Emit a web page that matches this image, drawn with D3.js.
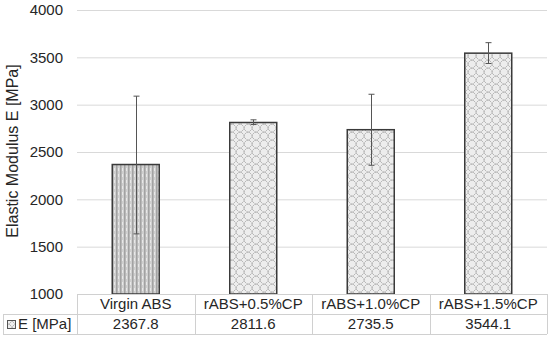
<!DOCTYPE html>
<html>
<head>
<meta charset="utf-8">
<script src="https://cdn.jsdelivr.net/npm/d3@7"></script>
<style>
  body { margin: 0; background: #fff; }
  text { font-family: "Liberation Sans", Arial, sans-serif; fill: #262626; }
</style>
</head>
<body>
<div id="root"></div>
<script>
// chart data
const categories = ['Virgin ABS', 'rABS+0.5%CP', 'rABS+1.0%CP', 'rABS+1.5%CP'];
const values = [2367.8, 2811.6, 2735.5, 3544.1];
const errLow = [1635, 2790, 2360, 3435];
const errHigh = [3090, 2840, 3110, 3655];
const valueLabels = ['2367.8', '2811.6', '2735.5', '3544.1'];
const yTicks = [1000, 1500, 2000, 2500, 3000, 3500, 4000];
const seriesName = 'E [MPa]';

let width = 550, height = 340;
let margin = {top: 10, right: 3, bottom: 46, left: 77};

var svg = d3.select('#root')
  .append('svg')
  .attr('width', width)
  .attr('height', height);

// patterns
var defs = svg.append('defs');
var stripes = defs.append('pattern')
  .attr('id', 'stripes')
  .attr('patternUnits', 'userSpaceOnUse')
  .attr('width', 4).attr('height', 6);
stripes.append('rect').attr('width', 4).attr('height', 6).attr('fill', '#cfcfcf');
stripes.append('rect').attr('x', 0).attr('width', 1.5).attr('height', 6).attr('fill', '#a2a2a2');
stripes.append('rect').attr('x', 2).attr('y', 0).attr('width', 1).attr('height', 3).attr('fill', '#e8e8e8');

// small diamond rings
var dots = defs.append('pattern')
  .attr('id', 'dots')
  .attr('patternUnits', 'userSpaceOnUse')
  .attr('width', 8).attr('height', 8);
dots.append('rect').attr('width', 8).attr('height', 8).attr('fill', '#ededed');
[[4,1],[7,4],[4,7],[1,4]].forEach(p => {
  dots.append('rect')
    .attr('x', p[0] - 0.5).attr('y', p[1] - 0.5)
    .attr('width', 1.2).attr('height', 1.2)
    .attr('fill', '#8c8c8c');
});
[[5.5,2.5],[5.5,5.5],[2.5,5.5],[2.5,2.5]].forEach(p => {
  dots.append('rect')
    .attr('x', p[0] - 0.5).attr('y', p[1] - 0.5)
    .attr('width', 1).attr('height', 1)
    .attr('fill', '#b8b8b8');
});

// scales
var xScale = d3.scaleBand()
  .domain(categories)
  .range([margin.left, width - margin.right])
  .paddingInner(0.6).paddingOuter(0.3);
var catScale = d3.scaleBand()
  .domain(categories)
  .range([margin.left, width - margin.right]);
var yScale = d3.scaleLinear()
  .domain([1000, 4000])
  .range([294, margin.top]);

// grid lines
svg.append('g')
  .selectAll('line')
  .data(yTicks)
  .enter()
  .append('line')
  .attr('x1', margin.left).attr('x2', width - margin.right)
  .attr('y1', d => yScale(d) + 0.5).attr('y2', d => yScale(d) + 0.5)
  .attr('stroke', '#d9d9d9').attr('stroke-width', 1);

// y axis labels
var yAxis = d3.axisLeft(yScale).tickValues(yTicks).tickSize(0).tickPadding(14).tickFormat(d3.format('d'));
var yg = svg.append('g')
  .attr('transform', 'translate(' + [margin.left, 0] + ')')
  .call(yAxis);
yg.select('.domain').remove();
yg.selectAll('text')
  .style('font-size', '15px')
  .style('font-family', '"Liberation Sans", Arial, sans-serif')
  .attr('fill', '#262626');

svg.append('text')
  .attr('transform', 'translate(18,' + (yScale(2500) - 1) + ') rotate(-90)')
  .attr('text-anchor', 'middle')
  .style('font-size', '16px')
  .text('Elastic Modulus E [MPa]');

// bars
svg.append('g')
  .selectAll('rect')
  .data(values)
  .enter()
  .append('rect')
  .attr('x', (d, i) => xScale(categories[i]))
  .attr('width', xScale.bandwidth())
  .attr('y', d => yScale(d))
  .attr('height', d => yScale(1000) - yScale(d))
  .attr('fill', (d, i) => i === 0 ? 'url(#stripes)' : 'url(#dots)')
  .attr('stroke', '#3a3a3a')
  .attr('stroke-width', 1.5);

// error bars
var eg = svg.append('g').attr('stroke', '#555').attr('stroke-width', 1);
categories.forEach((c, i) => {
  var cx = Math.round(xScale(c) + xScale.bandwidth() / 2) + 0.5;
  eg.append('line')
    .attr('x1', cx).attr('x2', cx)
    .attr('y1', yScale(errLow[i])).attr('y2', yScale(errHigh[i]));
  [errLow[i], errHigh[i]].forEach(v => {
    eg.append('line')
      .attr('x1', cx - 3).attr('x2', cx + 3)
      .attr('y1', yScale(v)).attr('y2', yScale(v));
  });
});

// data table
var rowTop = 294, rowMid = 314, rowBot = 334;
var tg = svg.append('g').attr('stroke', '#d0d0d0').attr('stroke-width', 1);
tg.append('line').attr('x1', margin.left).attr('x2', width - margin.right).attr('y1', rowTop + 0.5).attr('y2', rowTop + 0.5);
tg.append('line').attr('x1', 3).attr('x2', width - margin.right).attr('y1', rowMid + 0.5).attr('y2', rowMid + 0.5);
tg.append('line').attr('x1', 3).attr('x2', width - margin.right).attr('y1', rowBot + 0.5).attr('y2', rowBot + 0.5);
tg.append('line').attr('x1', 3.5).attr('x2', 3.5).attr('y1', rowMid).attr('y2', rowBot);
tg.append('line').attr('x1', margin.left + 0.5).attr('x2', margin.left + 0.5).attr('y1', rowTop).attr('y2', rowBot);
categories.forEach(c => {
  var x = Math.round(catScale(c) + catScale.bandwidth()) + 0.5;
  tg.append('line').attr('x1', x).attr('x2', x).attr('y1', rowTop).attr('y2', rowBot);
});

svg.append('g')
  .selectAll('text')
  .data(categories)
  .enter()
  .append('text')
  .attr('x', d => catScale(d) + catScale.bandwidth() / 2)
  .attr('y', rowTop + 15)
  .attr('text-anchor', 'middle')
  .style('font-size', '15px')
  .text(d => d);

svg.append('g')
  .selectAll('text')
  .data(valueLabels)
  .enter()
  .append('text')
  .attr('x', (d, i) => catScale(categories[i]) + catScale.bandwidth() / 2)
  .attr('y', rowMid + 15)
  .attr('text-anchor', 'middle')
  .style('font-size', '15px')
  .text(d => d);

// legend key in table
svg.append('rect')
  .attr('x', 7.5).attr('y', rowMid + 6.5)
  .attr('width', 8).attr('height', 8)
  .attr('fill', 'url(#dots)')
  .attr('stroke', '#555').attr('stroke-width', 1);
svg.append('text')
  .attr('x', 18).attr('y', rowMid + 15)
  .style('font-size', '15px')
  .text(seriesName);
</script>
</body>
</html>
